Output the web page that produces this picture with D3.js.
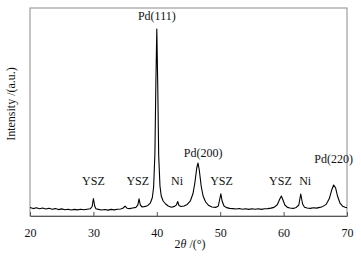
<!DOCTYPE html>
<html>
<head>
<meta charset="utf-8">
<script src="https://cdn.jsdelivr.net/npm/d3@7"></script>
<style>
  body { margin: 0; background: #fff; font-family: "Liberation Serif", serif; }
  svg text { font-family: "Liberation Serif", "Times New Roman", serif; }
</style>
</head>
<body>
<div id="chart"></div>
<script>
let width = 361, height = 256,
    margin = ({ top: 8, right: 14, bottom: 40, left: 30 });
const serif = "Liberation Serif";

// XRD pattern (2theta in degrees, intensity in a.u.)
const twoTheta = [20.0, 20.5, 21, 21.5, 22, 22.5, 23, 23.5, 24, 24.5, 25, 25.5, 26, 26.5, 27, 27.5, 28, 28.5, 29, 29.5,
  29.8, 30.0, 30.2, 30.4, 30.8, 31.3, 31.8, 32.3, 32.8, 33.3, 33.8, 34.3, 34.7, 35.0, 35.3, 35.7, 36.2, 36.7, 37.0, 37.2,
  37.4, 37.7, 38.2, 38.6, 39.0, 39.3, 39.5, 39.7, 39.85, 40.0, 40.15, 40.3, 40.5, 40.7, 41.0, 41.4, 41.8, 42.3, 42.8, 43.1,
  43.3, 43.5, 43.8, 44.3, 44.8, 45.3, 45.7, 46.0, 46.3, 46.5, 46.7, 47.0, 47.3, 47.7, 48.2, 48.7, 49.3, 49.7, 49.9, 50.1,
  50.3, 50.6, 51.0, 51.5, 52, 52.5, 53, 53.5, 54, 54.5, 55, 55.5, 56, 56.5, 57, 57.5, 58, 58.5, 59.0, 59.4,
  59.65, 59.9, 60.2, 60.6, 61, 61.5, 62, 62.4, 62.7, 63.0, 63.3, 63.7, 64.2, 64.7, 65.2, 65.7, 66.2, 66.7, 67.2, 67.6,
  67.9, 68.2, 68.5, 68.9, 69.3, 69.7, 70];
const intensity = [85, 74, 82, 72, 80, 70, 77, 68, 74, 64, 71, 62, 68, 60, 66, 61, 67, 62, 68, 72,
  95, 175, 100, 72, 66, 60, 65, 59, 66, 61, 68, 70, 80, 98, 78, 74, 80, 86, 108, 172,
  110, 90, 96, 106, 132, 185, 290, 620, 1320, 1870, 1300, 600, 300, 200, 150, 120, 100, 88, 96, 112,
  145, 104, 95, 100, 116, 152, 222, 330, 480, 530, 460, 300, 200, 140, 104, 90, 86, 100, 160, 222,
  150, 100, 84, 76, 74, 70, 75, 68, 72, 66, 73, 67, 72, 66, 73, 74, 79, 86, 112, 170,
  200, 160, 110, 86, 80, 76, 86, 110, 220, 120, 88, 80, 76, 83, 79, 86, 96, 116, 172, 262,
  310, 282, 200, 128, 98, 88, 84];

// peak labels: text, 2theta of label centre, intensity of label baseline
const peakNames = ["YSZ", "YSZ", "Pd(111)", "Ni", "Pd(200)", "YSZ", "YSZ", "Ni", "Pd(220)"];
const peakPos = [30.0, 37.0, 40.0, 43.2, 47.3, 50.2, 59.5, 63.4, 67.9];
const peakLabelI = [310, 310, 1960, 310, 590, 310, 310, 310, 530];

const xTicks = [20, 30, 40, 50, 60, 70];

const data = twoTheta.map((t, i) => ({ t: t, v: intensity[i] }));

const svg = d3.select("#chart")
  .append("svg")
  .attr("width", width)
  .attr("height", height)
  .attr("font-family", serif);

let x = d3.scaleLinear()
  .domain([20, 70])
  .range([margin.left, width - margin.right]);

let y = d3.scaleLinear()
  .domain([0, 2080])
  .range([height - margin.bottom, margin.top]);

// frame
svg.append("rect")
  .attr("x", margin.left)
  .attr("y", margin.top)
  .attr("width", width - margin.left - margin.right)
  .attr("height", height - margin.top - margin.bottom)
  .attr("fill", "none")
  .attr("stroke", "#8a8a8a")
  .attr("stroke-width", 1);

// x axis, ticks pointing inward
const xAxis = svg.append("g")
  .attr("transform", `translate(0,${height - margin.bottom})`)
  .call(d3.axisBottom(x).tickValues(xTicks).tickSizeInner(-4).tickSizeOuter(0).tickPadding(12))
  .attr("font-family", serif)
  .attr("font-size", 12);
xAxis.select(".domain").attr("stroke", "#555");
xAxis.selectAll(".tick line").attr("stroke", "#555");
xAxis.selectAll(".tick text").attr("fill", "#111");

// the pattern
const line = d3.line()
  .x(d => x(d.t))
  .y(d => y(d.v));

svg.append("path")
  .datum(data)
  .attr("d", line)
  .attr("fill", "none")
  .attr("stroke", "#000")
  .attr("stroke-width", 1.1)
  .attr("stroke-linejoin", "round");

// peak labels
svg.append("g")
  .selectAll("text")
  .data(peakNames)
  .join("text")
  .attr("x", (d, i) => x(peakPos[i]))
  .attr("y", (d, i) => y(peakLabelI[i]))
  .attr("text-anchor", "middle")
  .attr("font-size", 12)
  .attr("fill", "#111")
  .text(d => d);

// axis titles
const xt = svg.append("text")
  .attr("x", 190)
  .attr("y", 248)
  .attr("text-anchor", "middle")
  .attr("font-size", 12)
  .attr("fill", "#111");
xt.append("tspan").text("2");
xt.append("tspan").attr("font-style", "italic").text("θ");
xt.append("tspan").text(" /(°)");

svg.append("text")
  .attr("transform", "translate(15,104) rotate(-90)")
  .attr("text-anchor", "middle")
  .attr("font-size", 12)
  .attr("fill", "#111")
  .text("Intensity /(a.u.)");
</script>
</body>
</html>
